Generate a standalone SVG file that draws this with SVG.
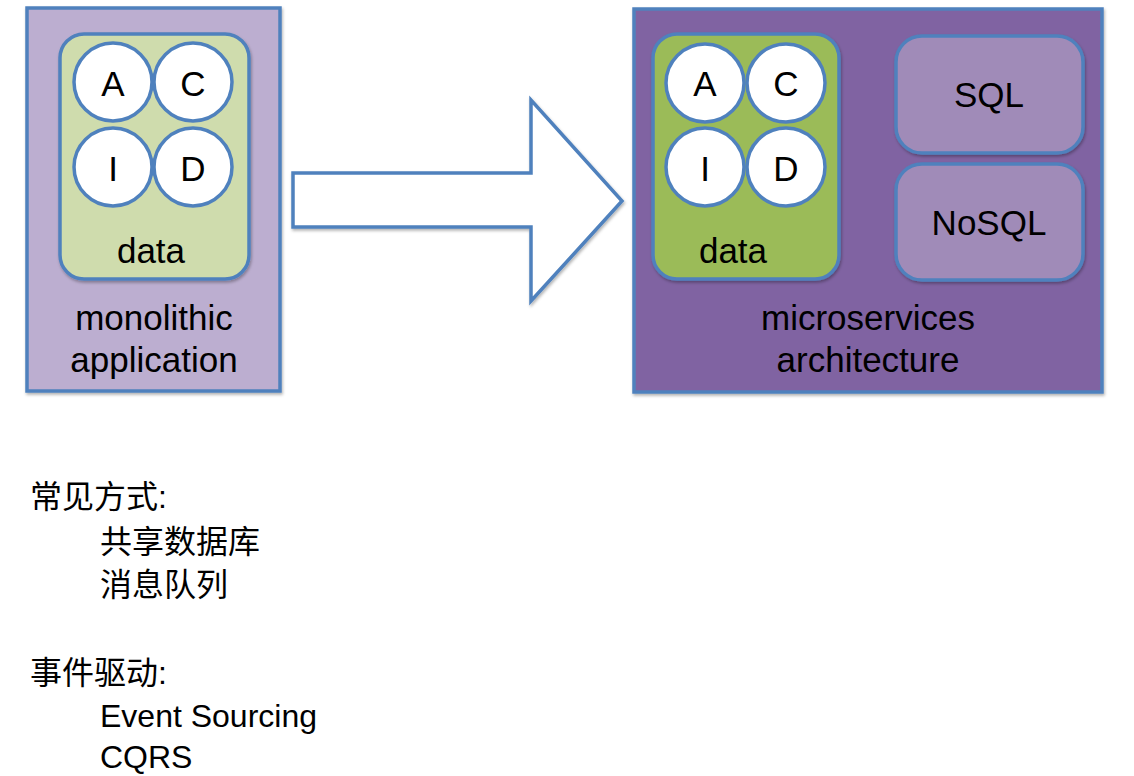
<svg xmlns="http://www.w3.org/2000/svg" width="1134" height="776" viewBox="0 0 1134 776">
<style>
.box{stroke:#4f81bd;stroke-width:3.5}
.circ{fill:#ffffff;stroke:#4f81bd;stroke-width:3.5}
.lbl{font-family:"Liberation Sans",Arial,sans-serif;font-size:35px;fill:#000;text-anchor:middle}
.let{font-family:"Liberation Sans",Arial,sans-serif;font-size:35px;fill:#000;text-anchor:middle}
.cn{font-family:"Liberation Sans","Noto Sans CJK SC",sans-serif;font-size:32px;fill:#000}
</style>
<defs>
<filter id="sh" x="-10%" y="-10%" width="130%" height="130%">
<feDropShadow dx="1" dy="2" stdDeviation="1.5" flood-color="#000" flood-opacity="0.3"/>
</filter>
</defs>
<rect width="1134" height="776" fill="#ffffff"/>
<g id="monolithic">
<rect class="box" x="27" y="8" width="253" height="383" fill="#bcaed0" filter="url(#sh)"/>
<text class="lbl" x="154" y="330">monolithic</text>
<text class="lbl" x="154" y="372">application</text>
</g>
<g id="mono-data">
<rect class="box" x="60" y="34" width="189" height="245" rx="24" fill="#cfdcad" filter="url(#sh)"/>
<text class="lbl" x="151" y="263">data</text>
<circle class="circ" cx="113" cy="82" r="39"/>
<circle class="circ" cx="193" cy="82" r="39"/>
<circle class="circ" cx="113" cy="167" r="39"/>
<circle class="circ" cx="193" cy="167" r="39"/>
<text class="let" x="113" y="96">A</text>
<text class="let" x="193" y="96">C</text>
<text class="let" x="113" y="181">I</text>
<text class="let" x="193" y="181">D</text>
</g>
<g id="connectors">
<polygon points="293,173 531,173 531,100 622,201 531,301 531,227 293,227" fill="#ffffff" stroke="#4f81bd" stroke-width="3.5" stroke-linejoin="miter" filter="url(#sh)"/>
</g>
<g id="microservices">
<rect class="box" x="634" y="9" width="468" height="383" fill="#8064a2" filter="url(#sh)"/>
<text class="lbl" x="868" y="330">microservices</text>
<text class="lbl" x="868" y="372">architecture</text>
</g>
<g id="micro-data">
<rect class="box" x="653" y="34" width="186" height="245" rx="24" fill="#9bbb59" filter="url(#sh)"/>
<text class="lbl" x="733" y="263">data</text>
<circle class="circ" cx="705" cy="83" r="39"/>
<circle class="circ" cx="786" cy="83" r="39"/>
<circle class="circ" cx="705" cy="167" r="39"/>
<circle class="circ" cx="786" cy="167" r="39"/>
<text class="let" x="705" y="96">A</text>
<text class="let" x="786" y="96">C</text>
<text class="let" x="705" y="181">I</text>
<text class="let" x="786" y="181">D</text>
</g>
<g id="sql">
<rect class="box" x="896" y="36" width="187" height="117" rx="26" fill="#a08bb8" filter="url(#sh)"/>
<text class="lbl" x="989" y="107">SQL</text>
</g>
<g id="nosql">
<rect class="box" x="896" y="164" width="187" height="116" rx="26" fill="#a08bb8" filter="url(#sh)"/>
<text class="lbl" x="989" y="235">NoSQL</text>
</g>
<g id="notes">
<text class="cn" x="30" y="508">常见方式:</text>
<text class="cn" x="100" y="553">共享数据库</text>
<text class="cn" x="100" y="596">消息队列</text>
<text class="cn" x="30" y="684">事件驱动:</text>
<text class="cn" x="100" y="727">Event Sourcing</text>
<text class="cn" x="100" y="768">CQRS</text>
</g>
</svg>
